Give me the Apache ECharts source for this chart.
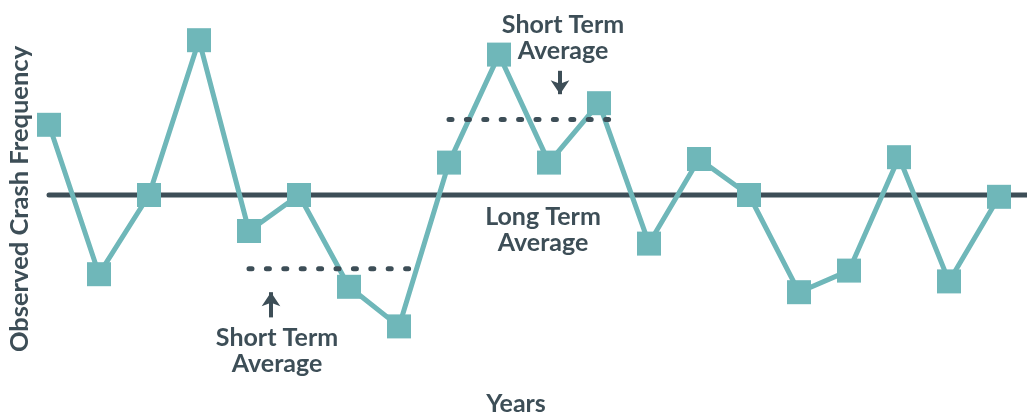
<!DOCTYPE html>
<html>
<head>
<meta charset="utf-8">
<script src="https://cdn.jsdelivr.net/npm/echarts@6/dist/echarts.min.js"></script>
<style>
  html, body { margin: 0; padding: 0; background: #ffffff; }
  #chart { width: 1027px; height: 415px; }
</style>
</head>
<body>
<div id="chart"></div>
<script>
// Observed crash frequency per year
const years = [1, 2, 3, 4, 5, 6, 7, 8, 9, 10, 11, 12, 13, 14, 15, 16, 17, 18, 19, 20];
const observed = [13.9, 5.6, 10.0, 18.6, 8.0, 10.0, 4.9, 2.7, 11.8, 17.8, 11.8, 15.1, 7.3, 12.0, 10.0, 4.6, 5.8, 12.1, 5.2, 9.9];

// Averages
const longTermAverage = 10.0;
const shortTermA = { from: 5, to: 8.2, value: 5.9 };
const shortTermB = { from: 9, to: 12.2, value: 14.2 };

const teal = '#6fb7b9';
const slate = '#3d4e57';
const font = 'Lato, "Open Sans", sans-serif';

const chart = echarts.init(document.getElementById('chart'), null, { renderer: 'canvas' });

const textLabel = {
  show: true,
  position: 'inside',
  formatter: '{b}',
  color: slate,
  opacity: 1,
  fontFamily: font,
  fontWeight: 'bold',
  fontSize: 25,
  lineHeight: 26,
  align: 'center',
  verticalAlign: 'middle'
};

chart.setOption({
  animation: false,
  backgroundColor: '#ffffff',
  grid: { left: 49, right: 0, top: 15, bottom: 40 },
  xAxis: { type: 'value', min: 1, max: 20.56, show: false },
  yAxis: { type: 'value', min: 0, max: 20, show: false },
  graphic: [
    {
      type: 'text',
      x: 516, y: 404,
      style: {
        text: 'Years', fill: slate,
        fontFamily: font, fontWeight: 'bold', fontSize: 25,
        align: 'center', verticalAlign: 'middle'
      }
    },
    {
      type: 'text',
      x: 20, y: 199,
      rotation: Math.PI / 2,
      style: {
        text: 'Observed Crash Frequency', fill: slate,
        fontFamily: font, fontWeight: 'bold', fontSize: 25.5,
        align: 'center', verticalAlign: 'middle'
      }
    }
  ],
  series: [
    {
      name: 'Long Term Average',
      type: 'line',
      z: 1,
      silent: true,
      showSymbol: false,
      data: [[1, longTermAverage], [20.56, longTermAverage]],
      lineStyle: { color: slate, width: 5, cap: 'round' }
    },
    {
      name: 'Observed',
      type: 'line',
      z: 2,
      data: years.map((y, i) => [y, observed[i]]),
      symbol: 'rect',
      symbolSize: 24,
      showAllSymbol: true,
      itemStyle: { color: teal },
      lineStyle: { color: teal, width: 5 }
    },
    {
      name: 'Short Term Average A',
      type: 'line',
      z: 3,
      silent: true,
      showSymbol: false,
      data: [[shortTermA.from, shortTermA.value], [shortTermA.to, shortTermA.value]],
      lineStyle: { color: slate, width: 5, type: [3, 14.4], cap: 'round' }
    },
    {
      name: 'Short Term Average B',
      type: 'line',
      z: 3,
      silent: true,
      showSymbol: false,
      data: [[shortTermB.from, shortTermB.value], [shortTermB.to, shortTermB.value]],
      lineStyle: { color: slate, width: 5, type: [3, 14.4], cap: 'round' }
    },
    {
      name: 'Arrows',
      type: 'lines',
      coordinateSystem: 'cartesian2d',
      z: 4,
      silent: true,
      symbol: ['none', 'arrow'],
      symbolSize: 14,
      lineStyle: { color: slate, width: 4, opacity: 1, curveness: 0 },
      data: [
        { coords: [[5.44, 3.2], [5.44, 4.6]] },
        { coords: [[11.22, 16.9], [11.22, 15.6]] }
      ]
    },
    {
      name: 'Notes',
      type: 'scatter',
      z: 5,
      silent: true,
      symbolSize: 1,
      itemStyle: { color: 'rgba(0,0,0,0)', opacity: 1 },
      label: textLabel,
      data: [
        { name: 'Short Term\nAverage', value: [5.56, 1.33] },
        { name: 'Short Term\nAverage', value: [11.28, 18.75] },
        { name: 'Long Term\nAverage', value: [10.88, 8.06] }
      ]
    }
  ]
});
</script>
</body>
</html>
